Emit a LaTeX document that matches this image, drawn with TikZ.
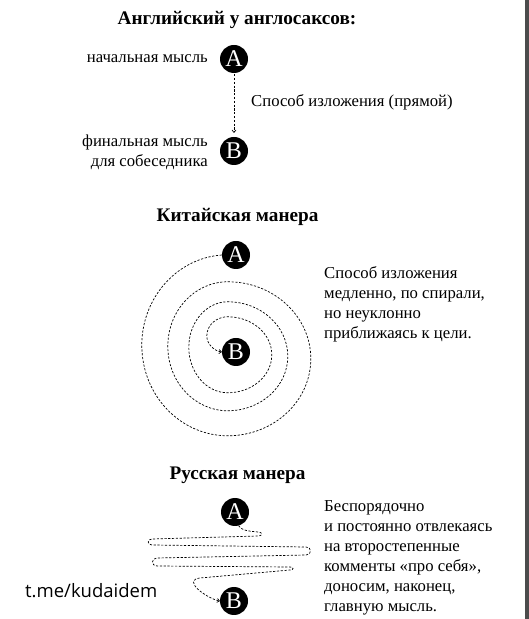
\documentclass[tikz,border=0pt]{standalone}
\usepackage{fontspec}
\setmainfont{Liberation Serif}
\newfontfamily\wmfont{Open Sans}
\usetikzlibrary{arrows.meta}
\definecolor{barcol}{gray}{0.3}
\tikzset{
  pt/.style={circle, fill=black, text=white, minimum size=28pt, inner sep=0pt, font=\fontsize{24}{24}\selectfont},
  dpath/.style={dash pattern=on 2.2pt off 1.6pt, line width=0.7pt},
  arr/.style={-{To[length=3pt,width=4.5pt]}},
  lbl/.style={font=\fontsize{16.7}{20.2}\selectfont, inner sep=0pt},
  ttl/.style={font=\bfseries\fontsize{19.2}{22}\selectfont, inner sep=0pt},
  wm/.style={font=\wmfont\fontsize{18.5}{20}\selectfont, inner sep=0pt}
}
\begin{document}
\begin{tikzpicture}[x=1pt,y=1pt]
\useasboundingbox (0,0) rectangle (529,619);
\fill[white] (0,0) rectangle (529,619);
\fill[barcol] (525,0) rectangle (529,619);

% Section 1
\node[ttl, anchor=base] (t1) at (237,594) {Английский у англосаксов:};
\node[pt] (A1) at (234,560) {A};
\node[pt] (B1) at (234,468) {B};
\node[lbl, anchor=base east] (l1) at (208,556) {начальная мысль};
\node[lbl, anchor=base east, align=right] (l2) at (208,452) {финальная мысль\\для собеседника};
\node[lbl, anchor=base west] (l3) at (251,512) {Способ изложения (прямой)};
\draw[dpath, arr, shorten >=4pt, shorten <=1pt] (A1) -- (B1);

% Section 2
\node[ttl, anchor=base] (t2) at (237.5,397) {Китайская манера};
\node[pt] (A2) at (236,364) {A};
\node[pt] (B2) at (236,267) {B};
\node[lbl, anchor=base west, align=left] (l4) at (324,280) {Способ изложения\\медленно, по спирали,\\но неуклонно\\приближаясь к цели.};
\draw[dpath, arr] (A2.west)
  arc[start angle=94, end angle=270, x radius=86, y radius=90.5]
  arc[start angle=-90, end angle=90, x radius=83, y radius=77]
  arc[start angle=90, end angle=270, x radius=60, y radius=64.5]
  arc[start angle=-90, end angle=90, x radius=60, y radius=54.5]
  arc[start angle=90, end angle=270, x radius=39, y radius=45.5]
  arc[start angle=-90, end angle=90, x radius=44, y radius=38]
  arc[start angle=90, end angle=180, x radius=21, y radius=19]
  .. controls +(0,-9) and +(-7,1) .. (B2.west);

% Section 3
\node[ttl, anchor=base] (t3) at (237.5,139) {Русская манера};
\node[pt] (A3) at (235,107) {A};
\node[pt] (B3) at (234,18) {B};
\node[lbl, anchor=base west, align=left] (l5) at (324,7) {Беспорядочно\\и постоянно отвлекаясь\\на второстепенные\\комменты «про себя»,\\доносим, наконец,\\главную мысль.};
\draw[dpath, arr] (A3.-75) .. controls +(2,-4) and +(-12,1) .. (258,87)
  .. controls +(5,0) and +(5,0) .. (258,83)
  -- (152,80)
  .. controls +(-5,0) and +(-5,0) .. (152,74)
  -- (306,72)
  .. controls +(6,0) and +(6,0) .. (306,64)
  -- (157,61)
  .. controls +(-6,0) and +(-6,0) .. (157,53)
  -- (290,52)
  .. controls +(4,0) and +(4,0) .. (290,49)
  -- (200,41)
  .. controls +(-18,-2) and +(-14,3) .. (B3.west);

\node[wm, anchor=base west] (wm) at (25,21) {t.me/kudaidem};
\end{tikzpicture}
\end{document}
